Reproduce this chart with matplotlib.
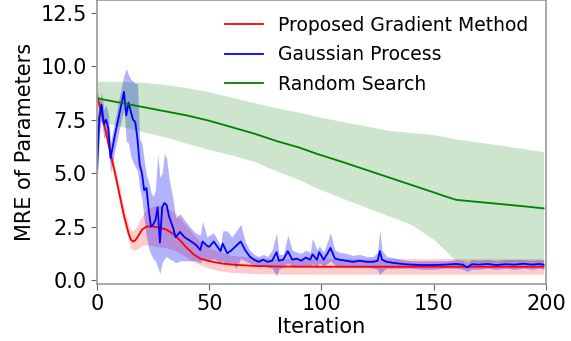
import numpy as np
import matplotlib
matplotlib.use('Agg')
import matplotlib.pyplot as plt
matplotlib.rcParams.update({'font.size': 15})

# Proposed gradient method (mean and band)
red_x = [0, 2, 4, 6, 8, 10, 12, 14, 15, 16, 17, 18, 20, 22, 25, 28, 31, 34, 37, 40,
         43, 46, 50, 55, 60, 70, 80, 100, 150, 199]
red_mean = [8.6, 7.8, 6.9, 5.9, 5.0, 4.0, 3.0, 2.2, 1.9, 1.8, 1.85, 2.0, 2.35, 2.5, 2.5,
            2.45, 2.35, 2.15, 1.85, 1.5, 1.2, 1.0, 0.88, 0.78, 0.72, 0.66, 0.63, 0.62, 0.62, 0.62]
red_hi = [8.95, 8.15, 7.25, 6.25, 5.35, 4.35, 3.35, 2.6, 2.35, 2.3, 2.4, 2.6, 3.0, 3.3, 3.45,
          3.5, 3.4, 3.2, 2.9, 2.5, 2.1, 1.8, 1.5, 1.3, 1.15, 1.05, 1.0, 1.0, 1.0, 1.0]
red_lo = [8.25, 7.45, 6.55, 5.55, 4.65, 3.65, 2.65, 1.85, 1.5, 1.4, 1.4, 1.45, 1.6, 1.65, 1.6,
          1.55, 1.5, 1.4, 1.25, 1.05, 0.85, 0.7, 0.55, 0.42, 0.35, 0.3, 0.28, 0.27, 0.27, 0.27]

# Gaussian process (mean and band)
blue_x = [0, 1, 2, 3, 4, 5, 6, 8, 10, 12, 13, 14, 15, 16, 17, 18, 19, 20, 21, 22,
          23, 24, 25, 26, 27, 28, 29, 30, 31, 32, 34, 35, 37, 39, 42, 44, 46, 47, 49, 50,
          52, 55, 56, 58, 60, 62, 64, 66, 68, 70, 72, 74, 76, 78, 80, 81, 83, 85, 87, 89,
          91, 93, 95, 96, 98, 99, 101, 103, 104, 106, 108, 111, 114, 117, 120, 123, 125, 126, 127, 129,
          132, 136, 140, 145, 150, 155, 160, 163, 165, 167, 170, 174, 178, 182, 186, 190, 194, 197, 199]
blue_mean = [5.2, 7.6, 8.2, 7.3, 7.5, 7.1, 5.7, 6.8, 7.8, 8.8, 7.7, 8.3, 7.9, 7.5, 7.4, 6.6, 5.4, 5.0, 4.2, 4.3,
             3.3, 2.5, 2.6, 2.8, 3.4, 1.75, 3.4, 3.6, 3.5, 3.0, 2.4, 2.0, 2.25, 2.0, 1.8, 1.65, 1.4, 1.8, 1.6, 1.55,
             1.8, 1.35, 1.7, 1.25, 1.4, 1.6, 1.8, 1.4, 1.1, 0.95, 0.85, 0.95, 0.85, 0.9, 1.3, 0.9, 0.95, 1.35, 0.95, 1.0,
             0.9, 1.05, 0.95, 1.2, 0.95, 1.3, 0.95, 1.3, 1.5, 1.0, 0.95, 0.9, 0.85, 0.9, 0.85, 0.85, 0.9, 1.35, 0.95, 0.85,
             0.8, 0.75, 0.72, 0.7, 0.7, 0.72, 0.75, 0.72, 0.58, 0.74, 0.72, 0.75, 0.7, 0.74, 0.72, 0.76, 0.72, 0.75, 0.72]
blue_lo = [4.3, 6.8, 7.5, 6.6, 6.8, 6.4, 5.0, 6.1, 7.1, 8.0, 6.5, 6.4, 5.8, 5.5, 5.3, 5.1, 4.3, 3.8, 2.8, 2.0,
           1.5, 1.2, 1.0, 0.9, 0.6, 0.3, 0.8, 1.0, 1.1, 1.0, 0.9, 0.8, 0.9, 0.9, 0.9, 0.9, 0.8, 1.0, 0.9, 0.9,
           1.0, 0.8, 0.9, 0.7, 0.8, 0.55, 1.0, 0.9, 0.8, 0.7, 0.6, 0.65, 0.6, 0.55, 0.2, 0.5, 0.6, 0.8, 0.6, 0.6,
           0.6, 0.7, 0.6, 0.75, 0.6, 0.8, 0.65, 0.8, 0.9, 0.7, 0.6, 0.6, 0.6, 0.6, 0.6, 0.55, 0.5, 0.25, 0.4, 0.55,
           0.55, 0.55, 0.55, 0.5, 0.5, 0.55, 0.55, 0.5, 0.4, 0.5, 0.5, 0.55, 0.5, 0.55, 0.5, 0.55, 0.5, 0.55, 0.5]
blue_hi = [7.6, 8.3, 8.8, 8.0, 8.2, 7.8, 6.4, 7.5, 8.6, 9.6, 9.9, 9.6, 9.4, 9.3, 9.2, 9.2, 6.6, 6.4, 5.6, 4.9,
           4.6, 4.1, 3.9, 4.2, 5.9, 4.8, 5.0, 5.9, 5.7, 4.8, 3.7, 2.9, 3.1, 2.8, 2.4, 2.2, 2.1, 2.75, 2.0, 2.1,
           2.2, 1.6, 2.3, 2.3, 2.0, 2.3, 2.6, 1.8, 1.4, 1.2, 1.1, 1.2, 1.1, 1.4, 2.2, 1.2, 1.2, 2.1, 1.4, 1.3,
           1.25, 1.4, 1.3, 1.95, 1.4, 1.6, 1.3, 1.9, 2.2, 1.4, 1.3, 1.25, 1.15, 1.2, 1.1, 1.1, 1.3, 2.35, 1.4, 1.1,
           1.05, 0.95, 0.9, 0.9, 0.9, 0.9, 0.95, 0.92, 0.85, 0.95, 0.92, 0.95, 0.9, 0.95, 0.95, 0.95, 0.92, 0.95, 0.92]

# Random search (mean and band)
green_x = [0, 10, 20, 30, 40, 50, 60, 70, 80, 90, 98, 110, 120, 130, 140, 150, 155, 160,
           170, 180, 190, 199]
green_mean = [8.5, 8.3, 8.1, 7.9, 7.7, 7.45, 7.15, 6.85, 6.5, 6.2, 5.9, 5.5, 5.15, 4.8,
              4.45, 4.1, 3.92, 3.75, 3.65, 3.55, 3.45, 3.35]
green_hi = [9.3, 9.3, 9.25, 9.15, 9.0, 8.8, 8.55, 8.3, 8.05, 7.85, 7.65, 7.4, 7.2, 7.0,
            6.9, 6.8, 6.7, 6.6, 6.45, 6.3, 6.15, 6.0]
green_lo = [7.45, 7.2, 6.95, 6.7, 6.4, 6.1, 5.85, 5.55, 5.1, 4.7, 4.3, 3.8, 3.4, 3.0,
            2.6, 1.9, 1.4, 0.9, 0.85, 0.85, 0.85, 0.85]

fig = plt.figure(figsize=(5.71, 3.41), dpi=100)
ax = fig.add_axes([0.170, 0.167, 0.786, 0.833])

ax.plot(red_x, red_mean, color='red', lw=1.3, label='Proposed Gradient Method')
ax.fill_between(red_x, red_lo, red_hi, color='red', alpha=0.2, lw=0)
ax.plot(blue_x, blue_mean, color='blue', lw=1.3, label='Gaussian Process')
ax.fill_between(blue_x, blue_lo, blue_hi, color='blue', alpha=0.3, lw=0)
ax.plot(green_x, green_mean, color='green', lw=1.3, label='Random Search')
ax.fill_between(green_x, green_lo, green_hi, color='green', alpha=0.2, lw=0)

ax.set_xlim(0, 200)
ax.set_ylim(-0.19, 13.1)
ax.set_xticks([0, 50, 100, 150, 200])
ax.set_yticks([0.0, 2.5, 5.0, 7.5, 10.0, 12.5])
ax.set_xlabel('Iteration', labelpad=2)
ax.set_ylabel('MRE of Parameters')
for sp in ax.spines.values():
    sp.set_color('0.6')
    sp.set_linewidth(1.2)
ax.tick_params(color='0.4', length=4)
ax.legend(loc='upper right', frameon=False, fontsize=13.5, borderaxespad=0.0,
          labelspacing=0.55, bbox_to_anchor=(0.977, 0.97))

fig.savefig('out.png', dpi=100)
